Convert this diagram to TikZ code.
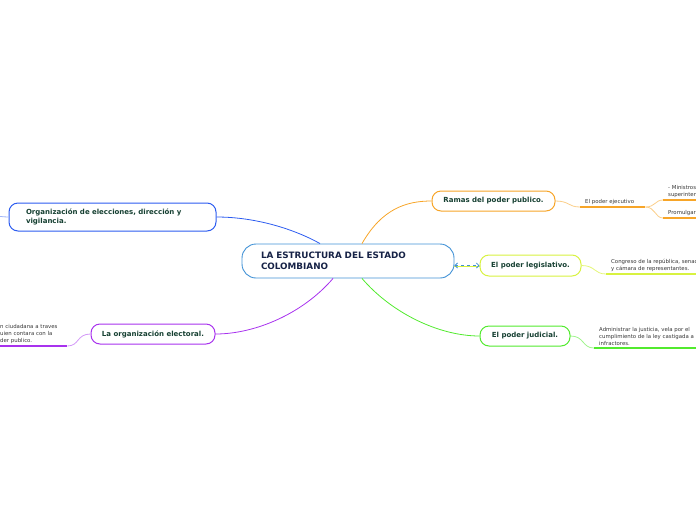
\documentclass[tikz,border=0pt]{standalone}
\usepackage{fontspec}
\setmainfont{DejaVu Sans}
\usetikzlibrary{arrows.meta, positioning, calc}
\definecolor{centro}{RGB}{66,146,214}
\definecolor{naranja}{RGB}{247,165,40}
\definecolor{lima}{RGB}{216,242,64}
\definecolor{verde}{RGB}{82,234,46}
\definecolor{azul}{RGB}{44,92,240}
\definecolor{morado}{RGB}{168,50,238}
\definecolor{titulo}{RGB}{22,34,70}
\definecolor{rama}{RGB}{22,64,50}
\definecolor{gristexto}{RGB}{55,55,55}

\tikzset{
  tema/.style={draw, line width=1pt, fill=white, rounded corners=9pt, text=rama,
    font=\fontsize{7}{9}\selectfont\bfseries, minimum height=20pt, inner sep=0pt},
  hoja/.style={anchor=south west, inner xsep=5pt, inner ysep=2pt, text=gristexto,
    font=\fontsize{5.4}{7}\selectfont, align=left},
  raya/.style={line width=1.6pt},
  liga/.style={line width=0.8pt},
}

\begin{document}
\begin{tikzpicture}[x=1pt, y=-1pt]
  \useasboundingbox (0,0) rectangle (696,520);
  % central topic
  \node[draw=centro, line width=0.9pt, fill=white, rounded corners=14pt, minimum height=34pt,
    text width=174pt, inner xsep=19pt, inner ysep=0pt, align=left, text=titulo,
    font=\fontsize{8.8}{11}\selectfont\bfseries] (estado) at (348,261) {LA ESTRUCTURA DEL ESTADO\\COLOMBIANO};
  % main branches
  \node[tema, draw=naranja, minimum width=123pt] (ramas) at (493.5,201) {Ramas del poder publico.};
  \node[tema, draw=lima, minimum width=101pt, minimum height=21pt] (legis) at (530.5,265.5) {El poder legislativo.};
  \node[tema, draw=verde, minimum width=90pt] (judicial) at (525,336) {El poder judicial.};
  \node[tema, draw=azul, minimum height=28pt, text width=173pt, inner xsep=17pt, align=left] (org) at (112.5,217)
    {Organización de elecciones, dirección y\\vigilancia.};
  \node[tema, draw=morado, minimum width=124pt] (electoral) at (153,334) {La organización electoral.};
  % connectors from the centre
  \draw[naranja, liga] ($(estado.north)+(14,0)$) .. controls +(20,-35) and +(-25,0) .. (ramas.west);
  \draw[azul, liga] (org.east) .. controls +(40,0) and +(-25,-14) .. ($(estado.north)+(-28,0)$);
  \draw[morado, liga] ($(estado.south)+(-15,0)$) .. controls +(-30,35) and +(40,0) .. (electoral.east);
  \draw[verde, liga] ($(estado.south)+(14,0)$) .. controls +(30,35) and +(-40,0) .. (judicial.west);
  \draw[lima, liga] ($(estado.east |- legis.west)+(0,1)$) -- ($(legis.west)+(0,1)$);
  \draw[centro, dashed, liga, {Straight Barb[length=2.5pt]}-{Straight Barb[length=2.5pt]}]
    (estado.east |- legis.west) -- (legis.west);
  % poder ejecutivo
  \node[hoja, text width=55pt] (ejecutivo) at (580,207) {El poder ejecutivo};
  \draw[naranja!55, liga] (ramas.east) .. controls +(14,0) and +(-12,0) .. (ejecutivo.south west);
  \draw[naranja, raya] (ejecutivo.south west) -- (ejecutivo.south east);
  \node[hoja] (ministros) at (663,200) {- Ministros\\superintendencias};
  \node[hoja] (promulgar) at (663,218) {Promulgar};
  \draw[naranja!55, liga] (ejecutivo.south east) .. controls +(10,0) and +(-8,0) .. (ministros.south west);
  \draw[naranja!55, liga] (ejecutivo.south east) .. controls +(10,0) and +(-8,0) .. (promulgar.south west);
  \draw[naranja, raya] (ministros.south west) -- ++(40,0);
  \draw[naranja, raya] (promulgar.south west) -- ++(40,0);
  % poder legislativo
  \node[hoja] (congreso) at (606,274) {Congreso de la república, senado\\y cámara de representantes.};
  \draw[lima!70, liga] (legis.east) .. controls +(14,0) and +(-12,0) .. (congreso.south west);
  \draw[lima, raya] (congreso.south west) -- ++(100,0);
  % poder judicial
  \node[hoja] (justicia) at (594,348) {Administrar la justicia, vela por el\\cumplimiento de la ley castigada a\\infractores.};
  \draw[verde!55, liga] (judicial.east) .. controls +(14,0) and +(-12,0) .. (justicia.south west);
  \draw[verde, raya] (justicia.south west) -- ++(110,0);
  % organizacion electoral
  \node[hoja, text width=62pt] (ciudadana) at (-5,346) {n ciudadana a traves\\uien contara con la\\der publico.};
  \draw[morado!50, liga] (electoral.west) .. controls +(-14,0) and +(12,0) .. (ciudadana.south east);
  \draw[morado, raya] (ciudadana.south west) -- (ciudadana.south east);
  % organizacion de elecciones
  \coordinate (fueraorg) at (-6,216);
  \draw[azul!45, liga] (org.west) .. controls +(-5,0) and +(4,0) .. (fueraorg);
\end{tikzpicture}
\end{document}
